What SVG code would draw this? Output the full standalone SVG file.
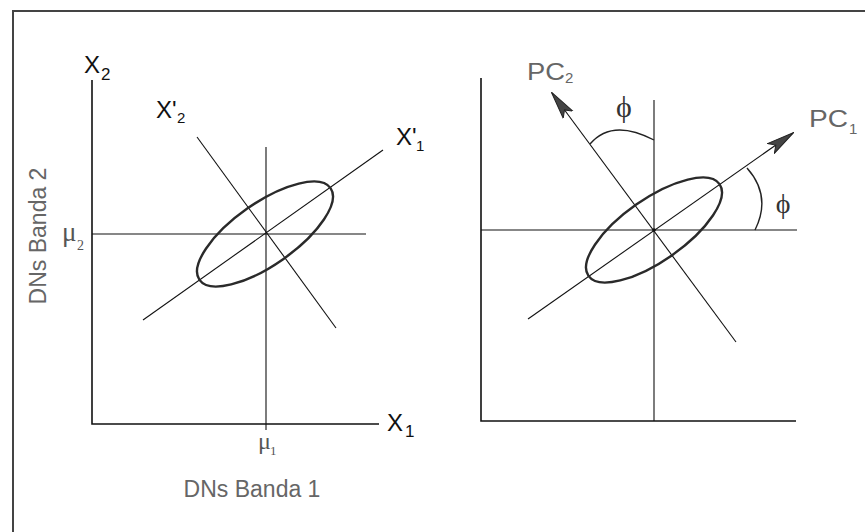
<svg xmlns="http://www.w3.org/2000/svg" width="865" height="532" viewBox="0 0 865 532">
  <style>
    .ax { stroke: #111; stroke-width: 1.6; fill: none; }
    .ln { stroke: #111; stroke-width: 1.1; fill: none; }
    .el { stroke: #2a2a2a; stroke-width: 2.4; fill: none; }
    .arc { stroke: #222; stroke-width: 1.4; fill: none; }
    .lab { font-family: "Liberation Sans", Arial, sans-serif; fill: #111; }
    .gl { font-family: "Liberation Sans", Arial, sans-serif; fill: #666; }
    .mu { font-family: "Liberation Serif", "Times New Roman", serif; fill: #555; }
    .phi { font-family: "Liberation Serif", "Times New Roman", serif; fill: #333; }
  </style>
  <defs>
    <marker id="arr" viewBox="0 0 28 14" refX="27" refY="7" markerWidth="28" markerHeight="14" markerUnits="userSpaceOnUse" orient="auto">
      <path d="M0,1 L28,7 L0,13 L6,7 Z" fill="#444" stroke="#222" stroke-width="1"/>
    </marker>
  </defs>
  <rect width="865" height="532" fill="#fff"/>
  <g id="frame">
    <line x1="12" y1="11" x2="865" y2="11" stroke="#444" stroke-width="2"/>
    <line x1="13" y1="11" x2="13" y2="532" stroke="#444" stroke-width="2"/>
  </g>

  <g id="left-plot">
    <g id="left-axes">
      <polyline class="ax" points="92,80 92,424 379,424"/>
    </g>
    <g id="left-connectors">
      <line class="ln" x1="92" y1="234" x2="366" y2="234"/>
      <line class="ln" x1="266" y1="147" x2="266" y2="430"/>
      <line class="ln" x1="143" y1="320" x2="383" y2="150"/>
      <line class="ln" x1="197" y1="137" x2="336" y2="328"/>
    </g>
    <g id="left-ellipse">
      <ellipse class="el" cx="265" cy="234" rx="80" ry="31" transform="rotate(-35 265 234)"/>
    </g>
    <g id="left-labels">
      <text class="lab" x="84" y="73" font-size="24">X</text>
      <text class="lab" x="101" y="80" font-size="17">2</text>
      <text class="lab" x="387" y="431" font-size="24">X</text>
      <text class="lab" x="405" y="437" font-size="17">1</text>
      <text class="lab" x="156" y="118" font-size="24">X'</text>
      <text class="lab" x="177" y="123" font-size="15">2</text>
      <text class="lab" x="396" y="145" font-size="24">X'</text>
      <text class="lab" x="416" y="151" font-size="15">1</text>
      <text class="mu" x="62" y="241" font-size="27">μ</text>
      <text class="mu" x="77" y="250" font-size="14">2</text>
      <text class="mu" x="258" y="449" font-size="24">μ</text>
      <text class="mu" x="270" y="455" font-size="13">1</text>
      <text class="gl" x="252" y="497" font-size="23" text-anchor="middle">DNs Banda 1</text>
      <text class="gl" x="0" y="0" font-size="23" text-anchor="middle" transform="translate(46 236) rotate(-90)">DNs Banda 2</text>
    </g>
  </g>

  <g id="right-plot">
    <g id="right-axes">
      <polyline class="ax" points="481,78 481,421 796,421"/>
    </g>
    <g id="right-connectors">
      <line class="ln" x1="481" y1="230" x2="797" y2="230"/>
      <line class="ln" x1="654" y1="100" x2="654" y2="421"/>
      <line class="ln" x1="528" y1="319" x2="793" y2="133" marker-end="url(#arr)"/>
      <line class="ln" x1="736" y1="342" x2="552" y2="93" marker-end="url(#arr)"/>
      <path class="arc" d="M590,144 Q612,118 654,140"/>
      <path class="arc" d="M747,168 Q772,196 755,230"/>
    </g>
    <g id="right-ellipse">
      <ellipse class="el" cx="654" cy="230" rx="80" ry="31" transform="rotate(-35 654 230)"/>
      <circle cx="654" cy="230" r="1.8" fill="#111"/>
    </g>
    <g id="right-labels">
      <text class="gl" x="527" y="80" font-size="24" textLength="38" lengthAdjust="spacingAndGlyphs">PC</text>
      <text class="gl" x="565" y="83" font-size="15">2</text>
      <text class="gl" x="809" y="127" font-size="24" textLength="39" lengthAdjust="spacingAndGlyphs">PC</text>
      <text class="gl" x="849" y="134" font-size="15">1</text>
      <text class="phi" x="624" y="117" font-size="30" text-anchor="middle">ϕ</text>
      <text class="phi" x="783" y="213" font-size="28" text-anchor="middle">ϕ</text>
    </g>
  </g>
</svg>
